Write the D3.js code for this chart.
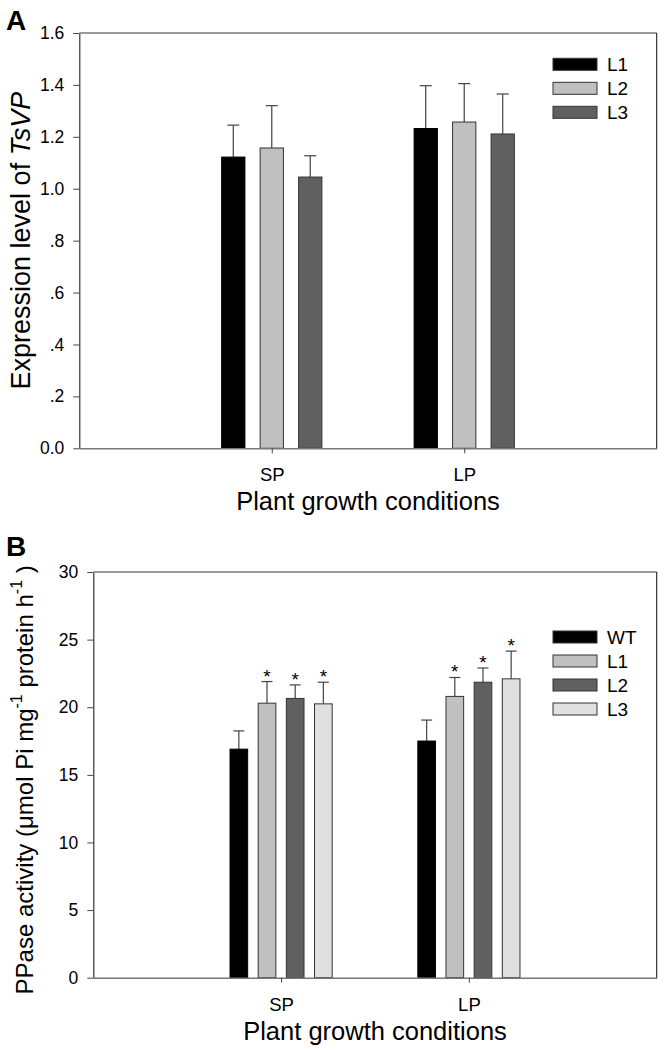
<!DOCTYPE html>
<html>
<head>
<meta charset="utf-8">
<script src="https://cdn.jsdelivr.net/npm/d3@7"></script>
<style>
  html, body { margin: 0; padding: 0; background: #fff; }
  svg { display: block; }
  text { font-family: Arial, "Liberation Sans", sans-serif; fill: #000; }
</style>
</head>
<body>
<svg id="chart" width="664" height="1050"></svg>
<script>
// ---------- DATA ----------
const categories = ["SP", "LP"];

// Panel A: expression level of TsVP
const seriesA = ["L1", "L2", "L3"];
const meanA_L1 = [1.122, 1.232];
const meanA_L2 = [1.157, 1.257];
const meanA_L3 = [1.045, 1.211];
const errA_L1 = [0.123, 0.165];
const errA_L2 = [0.163, 0.148];
const errA_L3 = [0.082, 0.154];
const colorsA = ["#000000", "#c0c0c0", "#606060"];
const ticksA = [0, 0.2, 0.4, 0.6, 0.8, 1.0, 1.2, 1.4, 1.6];
const tickLabelsA = ["0.0", ".2", ".4", ".6", ".8", "1.0", "1.2", "1.4", "1.6"];

// Panel B: PPase activity
const seriesB = ["WT", "L1", "L2", "L3"];
const meanB_WT = [16.9, 17.5];
const meanB_L1 = [20.3, 20.8];
const meanB_L2 = [20.65, 21.85];
const meanB_L3 = [20.25, 22.1];
const errB_WT = [1.35, 1.55];
const errB_L1 = [1.6, 1.4];
const errB_L2 = [1.0, 1.05];
const errB_L3 = [1.6, 2.05];
const starB = [false, true, true, true];
const colorsB = ["#000000", "#c0c0c0", "#606060", "#e0e0e0"];
const ticksB = [0, 5, 10, 15, 20, 25, 30];
const tickLabelsB = ["0", "5", "10", "15", "20", "25", "30"];

const xTitle = "Plant growth conditions";

// ---------- DRAW ----------
const svg = d3.select("#chart");
svg.append("rect").attr("width", 664).attr("height", 1050).attr("fill", "#fff");

function panel(cfg) {
  const g = svg.append("g");
  const x = d3.scaleLinear().domain([0, categories.length + 1]).range([cfg.left, cfg.right]);
  const y = d3.scaleLinear().domain(cfg.yDomain).range([cfg.bottom, cfg.top]);

  // bars
  const nS = cfg.series.length;
  cfg.series.forEach((s, si) => {
    const off = (si - (nS - 1) / 2) * cfg.step;
    categories.forEach((c, ci) => {
      const cx = x(ci + 1 + off);
      const w = x(cfg.barW) - x(0);
      const v = cfg.means[si][ci];
      const e = cfg.errs[si][ci];
      // error bar (upper only)
      g.append("line")
        .attr("x1", cx).attr("x2", cx)
        .attr("y1", y(v)).attr("y2", y(v + e))
        .attr("stroke", "#444").attr("stroke-width", 1.2);
      g.append("line")
        .attr("x1", cx - cfg.capW / 2).attr("x2", cx + cfg.capW / 2)
        .attr("y1", y(v + e)).attr("y2", y(v + e))
        .attr("stroke", "#444").attr("stroke-width", 1.2);
      g.append("rect")
        .attr("x", cx - w / 2).attr("width", w)
        .attr("y", y(v)).attr("height", y(0) - y(v))
        .attr("fill", cfg.colors[si])
        .attr("stroke", si === 0 ? "#000" : "#333").attr("stroke-width", 1);
      if (cfg.stars && cfg.stars[si]) {
        g.append("text")
          .attr("x", cx).attr("y", y(v + e) + 1)
          .attr("text-anchor", "middle")
          .attr("font-size", 19)
          .text("*");
      }
    });
  });

  // y axis
  const yAxis = d3.axisLeft(y).tickValues(cfg.ticks)
    .tickFormat((d, i) => cfg.tickLabels[i]).tickSize(6).tickSizeOuter(0).tickPadding(9);
  const ga = g.append("g").attr("transform", `translate(${cfg.left},0)`).call(yAxis);
  ga.select(".domain").attr("stroke", "#222").attr("stroke-width", 1.1);
  ga.selectAll(".tick line").attr("stroke", "#444");
  ga.selectAll(".tick text").attr("font-size", 17.5)
    .attr("font-family", "Arial, 'Liberation Sans', sans-serif").attr("fill", "#000");

  // x axis
  const xAxis = d3.axisBottom(x).tickValues(categories.map((c, i) => i + 1))
    .tickFormat((d, i) => categories[i]).tickSize(5).tickSizeOuter(0).tickPadding(0);
  const gx = g.append("g").attr("transform", `translate(0,${cfg.bottom})`).call(xAxis);
  gx.select(".domain").attr("stroke", "#777").attr("stroke-width", 1.6);
  gx.selectAll(".tick line").attr("stroke", "#444");
  gx.selectAll(".tick text").attr("font-size", 18.5).attr("y", 33).attr("dy", 0)
    .attr("font-family", "Arial, 'Liberation Sans', sans-serif").attr("fill", "#000");

  // frame top & right
  g.append("line").attr("x1", cfg.left).attr("x2", cfg.right)
    .attr("y1", cfg.top).attr("y2", cfg.top).attr("stroke", "#777").attr("stroke-width", 1.6);
  g.append("line").attr("x1", cfg.right).attr("x2", cfg.right)
    .attr("y1", cfg.top).attr("y2", cfg.bottom).attr("stroke", "#222").attr("stroke-width", 1.1);

  // x title
  g.append("text").attr("x", (cfg.left + cfg.right) / 2).attr("y", cfg.bottom + 62)
    .attr("text-anchor", "middle").attr("font-size", 25.5).text(xTitle);

  // legend
  cfg.series.forEach((s, si) => {
    const ly = cfg.legTop + si * 24;
    g.append("rect").attr("x", 553).attr("y", ly).attr("width", 44).attr("height", 12)
      .attr("fill", cfg.colors[si]).attr("stroke", "#333").attr("stroke-width", 1);
    g.append("text").attr("x", 607).attr("y", ly + 6).attr("dy", "0.36em")
      .attr("font-size", 19).text(s);
  });

  // panel letter
  g.append("text").attr("x", 6).attr("y", cfg.letterY).attr("font-size", 28)
    .attr("font-weight", "bold").text(cfg.letter);

  return { g, x, y };
}

const A = panel({
  left: 79.3, right: 656.7, top: 33, bottom: 448.3,
  yDomain: [0, 1.6], ticks: ticksA, tickLabels: tickLabelsA,
  series: seriesA, colors: colorsA,
  means: [meanA_L1, meanA_L2, meanA_L3], errs: [errA_L1, errA_L2, errA_L3],
  step: 0.2, barW: 0.121, capW: 12, legTop: 58.3, letter: "A", letterY: 29.5
});
const yLabA = A.g.append("text")
  .attr("transform", `translate(30,${(33 + 448.3) / 2}) rotate(-90)`)
  .attr("text-anchor", "middle").attr("font-size", 27);
yLabA.append("tspan").text("Expression level of ");
yLabA.append("tspan").attr("font-style", "italic").text("TsVP");

const B = panel({
  left: 93.3, right: 656.7, top: 572, bottom: 977.7,
  yDomain: [0, 30], ticks: ticksB, tickLabels: tickLabelsB,
  series: seriesB, colors: colorsB,
  means: [meanB_WT, meanB_L1, meanB_L2, meanB_L3], errs: [errB_WT, errB_L1, errB_L2, errB_L3],
  step: 0.15, barW: 0.094, capW: 11, legTop: 631, letter: "B", letterY: 556,
  stars: starB
});
const yLabB = B.g.append("text")
  .attr("transform", `translate(33,${(572 + 977.7) / 2 + 5}) rotate(-90)`)
  .attr("text-anchor", "middle").attr("font-size", 24);
yLabB.append("tspan").text("PPase activity (\u03bcmol Pi mg");
yLabB.append("tspan").attr("font-size", 16).attr("dy", -11).text("-1");
yLabB.append("tspan").attr("dy", 11).text("  protein h");
yLabB.append("tspan").attr("font-size", 16).attr("dy", -11).text("-1");
yLabB.append("tspan").attr("dy", 11).text(" )");
</script>
</body>
</html>
